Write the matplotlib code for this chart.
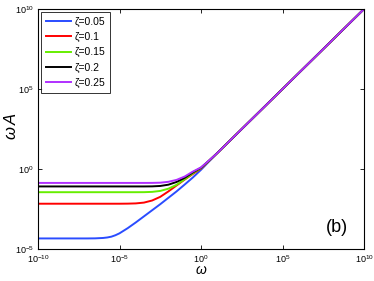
# %% Import libraries
import numpy as np
import matplotlib
matplotlib.use("Agg")
from matplotlib import pyplot as plt

plt.rcParams['font.family'] = ['Liberation Sans', 'DejaVu Sans']
plt.rcParams['mathtext.fontset'] = 'custom'
plt.rcParams['mathtext.rm'] = 'Liberation Sans'
plt.rcParams['mathtext.it'] = 'Liberation Sans:italic'

# %% Data (log10 of omega and log10 of omega*A)
log_w = [-10, -7, -6.5, -6, -5.75, -5.5, -5.25, -5, -4.5, -4, -3.5, -3, -2.5,
         -2, -1.5, -1, -0.5, 0, 0.5, 1, 10]

zetas = ['0.05', '0.1', '0.15', '0.2', '0.25']
log_wa_005 = [-4.34, -4.34, -4.335, -4.31, -4.28, -4.23, -4.14, -4.02, -3.7, -3.34, -2.96,
              -2.58, -2.2, -1.8, -1.4, -0.97, -0.53, -0.05, 0.48, 1.0, 10]
log_wa_010 = [-2.17, -2.17, -2.17, -2.17, -2.17, -2.17, -2.17, -2.17, -2.165, -2.15, -2.1,
              -1.97, -1.74, -1.4, -1.03, -0.66, -0.31, 0.03, 0.51, 1.0, 10]
log_wa_015 = [-1.45, -1.45, -1.45, -1.45, -1.45, -1.45, -1.45, -1.45, -1.45, -1.45, -1.448,
              -1.43, -1.37, -1.23, -0.99, -0.64, -0.27, 0.06, 0.52, 1.0, 10]
log_wa_020 = [-1.09, -1.09, -1.09, -1.09, -1.09, -1.09, -1.09, -1.09, -1.09, -1.09, -1.09,
              -1.085, -1.06, -0.98, -0.81, -0.55, -0.21, 0.08, 0.53, 1.0, 10]
log_wa_025 = [-0.87, -0.87, -0.87, -0.87, -0.87, -0.87, -0.87, -0.87, -0.87, -0.87, -0.87,
              -0.868, -0.855, -0.8, -0.68, -0.47, -0.16, 0.1, 0.54, 1.0, 10]

series = [log_wa_005, log_wa_010, log_wa_015, log_wa_020, log_wa_025]
colors = ['#2a4cff', '#ff0000', '#66ee00', '#000000', '#b030ff']

# %% Plot
fig = plt.figure(figsize=(3.74, 2.81), dpi=100)
ax = fig.add_axes([0.1016, 0.1139, 0.8717, 0.854])

w = 10.0 ** np.array(log_w)
for z, s, c in zip(zetas, series, colors):
    ax.plot(w, 10.0 ** np.array(s), color=c, lw=1.4, label='ζ=' + z,
            solid_joinstyle='round')

ax.set_xscale('log')
ax.set_yscale('log')
ax.set_xlim(1e-10, 1e10)
ax.set_ylim(1e-5, 1e10)

ticks = [1e-10, 1e-5, 1e0, 1e5, 1e10]
labels = ['$10^{-10}$', '$10^{-5}$', '$10^{0}$', '$10^{5}$', '$10^{10}$']
ax.set_xticks(ticks)
ax.set_xticklabels(labels)
ax.set_yticks(ticks[1:])
ax.set_yticklabels(labels[1:])
ax.minorticks_off()
ax.tick_params(direction='in', length=3, width=0.6, labelsize=6.5,
               top=True, right=True, pad=3)

for sp in ax.spines.values():
    sp.set_linewidth(0.8)

ax.set_xlabel(r'$\omega$', fontsize=10, labelpad=-1)
ax.set_ylabel(r'$\omega\, A$', fontsize=12)
ax.yaxis.set_label_coords(-0.058, 0.51)

ax.text(0.951, 0.09, '(b)', transform=ax.transAxes, fontsize=13,
        ha='right', va='center')

leg = ax.legend(loc='upper left', fontsize=7.5, frameon=True, fancybox=False,
                borderaxespad=0.3, handlelength=2.4, handletextpad=0.4,
                labelspacing=0.5, borderpad=0.45)
leg.get_frame().set_edgecolor('black')
leg.get_frame().set_linewidth(0.7)

fig.savefig('out.png', dpi=100)
